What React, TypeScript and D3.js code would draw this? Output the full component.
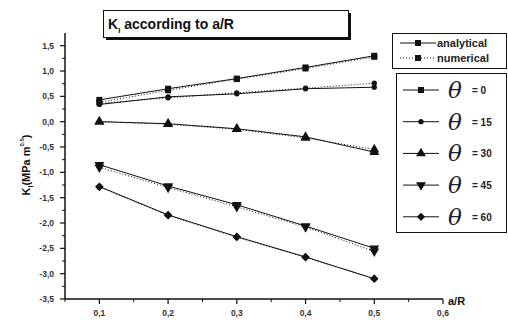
import React, { useEffect, useRef } from "react";
import * as d3 from "d3";

// a/R positions
const ratios = [0.1, 0.2, 0.3, 0.4, 0.5];
const angles = [0, 15, 30, 45, 60];
const markerShapes = ["square", "circle", "triangle", "triangleDown", "diamond"];

// K_I values, one row per angle
const analytical = [
  [0.43, 0.65, 0.85, 1.07, 1.3],
  [0.34, 0.49, 0.55, 0.65, 0.68],
  [0.0, -0.04, -0.14, -0.3, -0.6],
  [-0.85, -1.27, -1.64, -2.06, -2.5],
  [-1.28, -1.84, -2.27, -2.67, -3.1],
];
const numerical = [
  [0.38, 0.62, 0.84, 1.05, 1.28],
  [0.36, 0.47, 0.57, 0.66, 0.76],
  [0.0, -0.05, -0.15, -0.32, -0.55],
  [-0.9, -1.3, -1.68, -2.08, -2.56],
  [-1.29, -1.85, -2.28, -2.68, -3.1],
];

const xTicks = [0.1, 0.2, 0.3, 0.4, 0.5, 0.6];
const xMinor = [0.05, 0.15, 0.25, 0.35, 0.45, 0.55];
const yTicks = [-3.5, -3.0, -2.5, -2.0, -1.5, -1.0, -0.5, 0.0, 0.5, 1.0, 1.5];
const yMinor = [-3.25, -2.75, -2.25, -1.75, -1.25, -0.75, -0.25, 0.25, 0.75, 1.25];

const fmt = (v: number) => d3.format(".1f")(v).replace(".", ",").replace("−", "-");

const symbolFor = (shape: string) => {
  switch (shape) {
    case "square":
      return d3.symbol().type(d3.symbolSquare).size(36)();
    case "circle":
      return d3.symbol().type(d3.symbolCircle).size(22)();
    case "triangle":
    case "triangleDown":
      return d3.symbol().type(d3.symbolTriangle).size(42)();
    default:
      return d3.symbol().type(d3.symbolSquare).size(34)();
  }
};
const rotationFor = (shape: string) =>
  shape === "triangleDown" ? 180 : shape === "diamond" ? 45 : 0;

const App = () => {
  const ref = useRef<SVGSVGElement>(null);

  useEffect(() => {
    const svg = d3.select(ref.current);
    svg.selectAll("*").remove();

    const x = d3.scaleLinear().domain([0.05, 0.6]).range([65, 443]);
    const y = d3.scaleLinear().domain([-3.5, 1.75]).range([299, 33]);
    const font = "'Liberation Sans', Arial, sans-serif";
    const ink = "#111";

    // Axes
    const yAxis = svg.append("g").attr("transform", `translate(${x(0.05)},0)`);
    yAxis.append("line").attr("y1", y(1.75)).attr("y2", y(-3.5)).attr("stroke", ink).attr("stroke-width", 1.5);
    yAxis
      .selectAll("line.major")
      .data(yTicks)
      .join("line")
      .attr("class", "major")
      .attr("x1", -5)
      .attr("x2", 0)
      .attr("y1", (d) => y(d))
      .attr("y2", (d) => y(d))
      .attr("stroke", ink)
      .attr("stroke-width", 1.2);
    yAxis
      .selectAll("line.minor")
      .data(yMinor)
      .join("line")
      .attr("class", "minor")
      .attr("x1", -3)
      .attr("x2", 0)
      .attr("y1", (d) => y(d))
      .attr("y2", (d) => y(d))
      .attr("stroke", ink);
    yAxis
      .selectAll("text")
      .data(yTicks)
      .join("text")
      .attr("x", -11)
      .attr("y", (d) => y(d) + 3)
      .attr("text-anchor", "end")
      .attr("font-family", font)
      .attr("font-weight", "bold")
      .attr("font-size", 8.5)
      .attr("fill", "#333")
      .text((d) => fmt(d));

    const xAxis = svg.append("g").attr("transform", `translate(0,${y(-3.5)})`);
    xAxis.append("line").attr("x1", x(0.05)).attr("x2", x(0.6)).attr("stroke", ink).attr("stroke-width", 1.5);
    xAxis
      .selectAll("line.major")
      .data(xTicks)
      .join("line")
      .attr("class", "major")
      .attr("x1", (d) => x(d))
      .attr("x2", (d) => x(d))
      .attr("y1", 0)
      .attr("y2", 5)
      .attr("stroke", ink)
      .attr("stroke-width", 1.2);
    xAxis
      .selectAll("line.minor")
      .data(xMinor)
      .join("line")
      .attr("class", "minor")
      .attr("x1", (d) => x(d))
      .attr("x2", (d) => x(d))
      .attr("y1", 0)
      .attr("y2", 3)
      .attr("stroke", ink);
    xAxis
      .selectAll("text")
      .data(xTicks)
      .join("text")
      .attr("x", (d) => x(d))
      .attr("y", 17)
      .attr("text-anchor", "middle")
      .attr("font-family", font)
      .attr("font-weight", "bold")
      .attr("font-size", 8.5)
      .attr("fill", "#333")
      .text((d) => fmt(d));

    svg
      .append("text")
      .attr("x", 448)
      .attr("y", 305)
      .attr("font-family", font)
      .attr("font-weight", "bold")
      .attr("font-size", 11)
      .attr("fill", ink)
      .text("a/R");

    // Y label
    const yl = svg
      .append("text")
      .attr("transform", "translate(30,165) rotate(-90)")
      .attr("text-anchor", "middle")
      .attr("font-family", font)
      .attr("font-weight", "bold")
      .attr("font-size", 11)
      .attr("fill", ink);
    yl.append("tspan").text("K");
    yl.append("tspan").attr("font-size", 7).attr("dy", 3).text("I");
    yl.append("tspan").attr("dy", -3).text("(MPa m");
    yl.append("tspan").attr("font-size", 6).attr("dy", -6).text("0.5");
    yl.append("tspan").attr("dy", 6).text(")");

    // Series
    const line = d3
      .line<number>()
      .x((_, i) => x(ratios[i]))
      .y((d) => y(d));

    const drawMarkers = (vals: number[], shape: string) => {
      svg
        .append("g")
        .selectAll("path")
        .data(vals)
        .join("path")
        .attr("d", symbolFor(shape))
        .attr("transform", (d, i) => `translate(${x(ratios[i])},${y(d)}) rotate(${rotationFor(shape)})`)
        .attr("fill", ink);
    };

    angles.forEach((_, k) => {
      svg
        .append("path")
        .attr("d", line(analytical[k]))
        .attr("fill", "none")
        .attr("stroke", ink)
        .attr("stroke-width", 1);
      svg
        .append("path")
        .attr("d", line(numerical[k]))
        .attr("fill", "none")
        .attr("stroke", ink)
        .attr("stroke-width", 1)
        .attr("stroke-dasharray", "1,2");
      drawMarkers(analytical[k], markerShapes[k]);
      drawMarkers(numerical[k], markerShapes[k]);
    });

    // Title box
    svg.append("rect").attr("x", 106).attr("y", 13).attr("width", 245).attr("height", 27).attr("fill", ink);
    svg
      .append("rect")
      .attr("x", 103.5)
      .attr("y", 10.5)
      .attr("width", 245)
      .attr("height", 27)
      .attr("fill", "#fff")
      .attr("stroke", ink)
      .attr("stroke-width", 1);
    const title = svg
      .append("text")
      .attr("x", 108)
      .attr("y", 29)
      .attr("font-family", font)
      .attr("font-weight", "bold")
      .attr("font-size", 14)
      .attr("fill", ink);
    title.append("tspan").text("K");
    title.append("tspan").attr("font-size", 8).attr("dy", 4).text("I");
    title.append("tspan").attr("dy", -4).text(" according to a/R");

    // Legend: method
    svg
      .append("rect")
      .attr("x", 392.5)
      .attr("y", 33.5)
      .attr("width", 114)
      .attr("height", 35)
      .attr("fill", "#fff")
      .attr("stroke", ink);
    const methods = [
      { label: "analytical", dash: null },
      { label: "numerical", dash: "1,2" },
    ];
    methods.forEach((m, i) => {
      const cy = 43 + i * 15;
      svg
        .append("line")
        .attr("x1", 400)
        .attr("x2", 436)
        .attr("y1", cy)
        .attr("y2", cy)
        .attr("stroke", ink)
        .attr("stroke-dasharray", m.dash);
      svg
        .append("path")
        .attr("d", symbolFor("square"))
        .attr("transform", `translate(418,${cy})`)
        .attr("fill", ink);
      svg
        .append("text")
        .attr("x", 437)
        .attr("y", cy + 4)
        .attr("font-family", font)
        .attr("font-weight", "bold")
        .attr("font-size", 11)
        .attr("fill", "#222")
        .text(m.label);
    });

    // Legend: angle
    svg
      .append("rect")
      .attr("x", 396.5)
      .attr("y", 73.5)
      .attr("width", 110)
      .attr("height", 159)
      .attr("fill", "#fff")
      .attr("stroke", ink);
    angles.forEach((a, i) => {
      const cy = 90 + i * 31.7;
      svg
        .append("line")
        .attr("x1", 403)
        .attr("x2", 439)
        .attr("y1", cy)
        .attr("y2", cy)
        .attr("stroke", ink);
      svg
        .append("path")
        .attr("d", symbolFor(markerShapes[i]))
        .attr("transform", `translate(421,${cy}) rotate(${rotationFor(markerShapes[i])})`)
        .attr("fill", ink);
      svg
        .append("text")
        .attr("x", 448)
        .attr("y", cy + 8)
        .attr("font-family", "'DejaVu Serif', serif")
        .attr("font-style", "italic")
        .attr("font-size", 23)
        .attr("fill", "#1a1f3a")
        .text("θ");
      svg
        .append("text")
        .attr("x", 472)
        .attr("y", cy + 4)
        .attr("font-family", font)
        .attr("font-weight", "bold")
        .attr("font-size", 10)
        .attr("fill", "#222")
        .text(`= ${a}`);
    });
  }, []);

  return (
    <svg
      ref={ref}
      width={508}
      height={320}
      style={{ position: "absolute", left: 0, top: 0, background: "#fff" }}
    />
  );
};

export default App;
